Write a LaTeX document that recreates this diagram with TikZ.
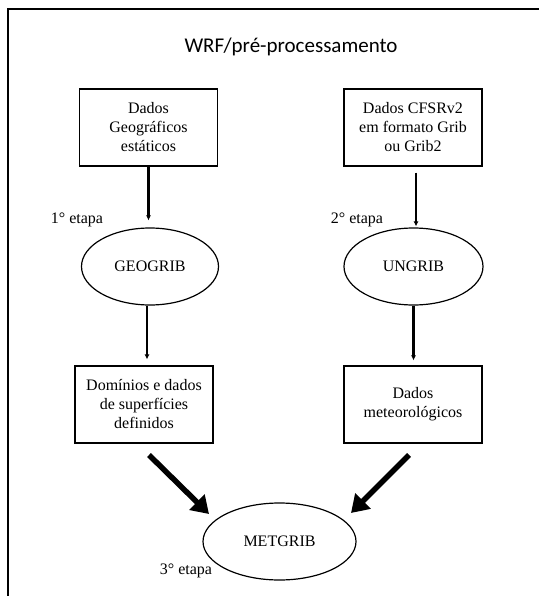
\documentclass[tikz,border=0pt]{standalone}
\usepackage{fontspec}
\setmainfont{Liberation Serif}
\newfontfamily\titlefont{Carlito}
\usetikzlibrary{shapes.geometric,arrows.meta}
\begin{document}
\begin{tikzpicture}[x=1pt,y=-1pt,
  txt/.style={font=\rmfamily\fontsize{16}{19}\selectfont, align=center, inner sep=0pt},
  boxnode/.style={txt, draw, line width=1.2pt, minimum width=138pt, minimum height=77pt},
  ellnode/.style={txt, draw, ellipse, line width=1.2pt, minimum width=137pt, minimum height=77pt},
  thinarrow/.style={line width=2.4pt, -{Latex[length=5pt,width=5pt]}},
  thickarrow/.style={line width=5.5pt, -{Triangle[length=17pt,width=21pt]}}
]
\useasboundingbox (0,0) rectangle (539,596);
\fill[white] (0,0) rectangle (539,596);
\draw[line width=2pt] (7.5,596) -- (7.5,9.5) -- (539,9.5);

\node[font=\titlefont\fontsize{21}{25}\selectfont] (title) at (291,47) {WRF/pré-processamento};

\node[boxnode] (b1) at (148.5,127.5) {Dados\\Geográficos\\estáticos};
\node[boxnode] (b2) at (413,127.5) {Dados CFSRv2\\em formato Grib\\ou Grib2};
\node[ellnode] (e1) at (150,266.5) {GEOGRIB};
\node[ellnode, minimum width=139pt] (e2) at (413.5,266.5) {UNGRIB};
\node[boxnode] (b3) at (144,404.5) {Domínios e dados\\de superfícies\\definidos};
\node[boxnode] (b4) at (413,404.5) {Dados\\meteorológicos};
\node[ellnode, minimum width=153pt] (e3) at (279.5,541.5) {METGRIB};

\node[txt] (l1) at (77,220) {1° etapa};
\node[txt] (l2) at (357,220) {2° etapa};
\node[txt] (l3) at (186,571) {3° etapa};

\draw[thinarrow, shorten >=7pt] (b1.south) -- (b1.south |- e1.north);
\draw[thinarrow, shorten <=6pt, shorten >=1pt] ([xshift=3pt]b2.south) -- ([xshift=3pt]b2.south |- e2.north);
\draw[thinarrow, shorten >=6pt] ([xshift=-3pt]e1.south) -- ([xshift=-3pt]e1.south |- b3.north);
\draw[thinarrow, shorten >=5pt] (e2.south) -- (e2.south |- b4.north);

\coordinate (s1) at (149,455);
\coordinate (t1) at (209,514);
\coordinate (s2) at (409,455);
\coordinate (t2) at (351,513);
\draw[thickarrow] (s1) -- (t1);
\draw[thickarrow] (s2) -- (t2);
\end{tikzpicture}
\end{document}
